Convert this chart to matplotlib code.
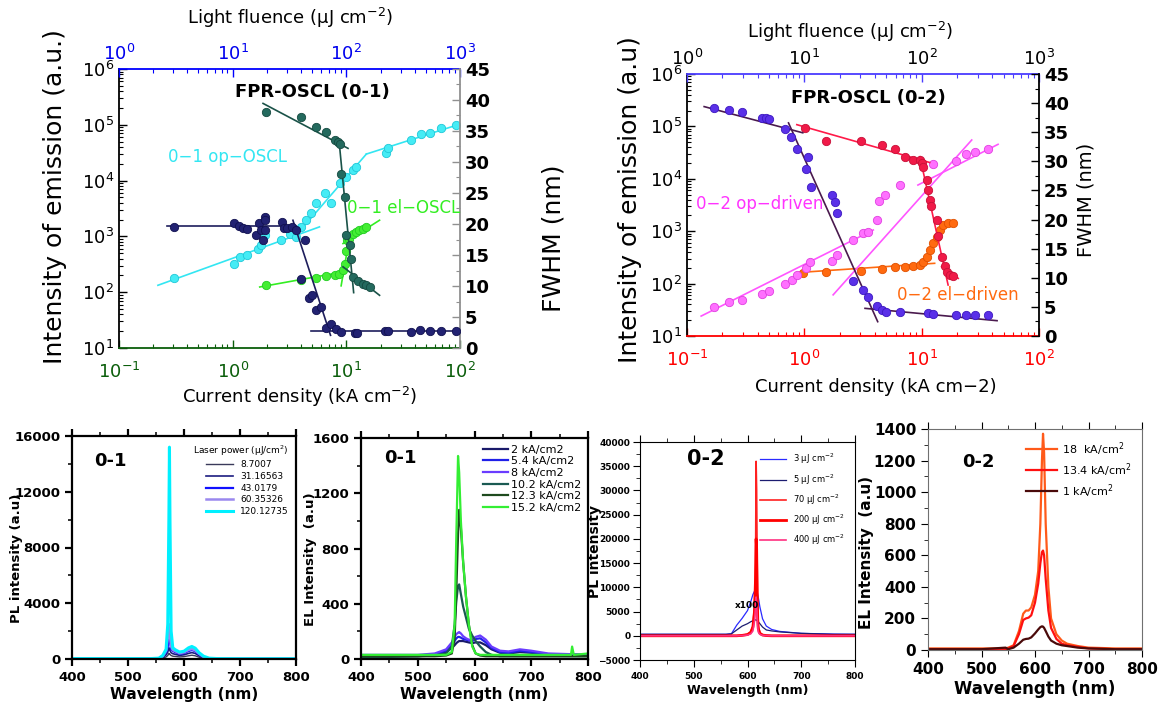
import numpy as np
import matplotlib
matplotlib.use('Agg')
import matplotlib.pyplot as plt
from matplotlib.ticker import MultipleLocator, LogLocator, NullFormatter

plt.rcParams['font.family'] = ['DejaVu Sans']
plt.rcParams['mathtext.default'] = 'regular'

# ---------------- data: FPR-OSCL (0-1) ----------------
# op-OSCL intensity vs light fluence
op1_flu = [3.05, 10.3, 11.5, 13.4, 16.7, 17.9, 19.1, 26.8, 31.7, 36.3, 40.2, 44.5, 49.2, 54.4,
           64.5, 73.8, 87.4, 100, 114, 122, 225, 234, 372, 457, 541, 685, 929]
op1_int = [180, 326, 430, 460, 605, 695, 1050, 850, 1120, 980, 1480, 1950, 2600, 3890,
           5900, 3890, 8900, 11700, 15500, 17800, 31000, 38000, 53800, 68000, 70000, 86000, 99000]
op1_fit_flu = [[2.2, 58], [36.3, 150], [150, 1000]]
op1_fit_int = [[133, 1480], [1050, 29900], [29900, 103000]]

# op FWHM vs light fluence
opw1_flu = [3.05, 10.3, 11.4, 12.3, 13.4, 15.9, 17.1, 17.6, 18.5, 19.1, 19.4, 19.1, 27.4, 28.3,
            30.2, 33.3, 36.3, 43.1, 40.2, 47.4, 49.9, 54.4, 60.2, 66, 72.6, 81.5, 89.9, 118,
            124, 218, 234, 372, 447, 541, 685, 929]
opw1_fw = [19.5, 20.2, 19.6, 19.4, 19.2, 18.3, 20.2, 19.0, 17.5, 21.2, 20.6, 19.0, 20.3, 19.3,
           19.4, 19.5, 19.0, 17.4, 11.1, 8.0, 8.5, 6.1, 6.6, 3.3, 3.8, 3.1, 2.6, 2.5,
           2.5, 2.7, 2.7, 2.6, 2.85, 2.7, 2.7, 2.7]
opw1_fit_flu = [[2.66, 36.3], [33.9, 72.6], [48.7, 1000]]
opw1_fit_fw = [[19.7, 19.7], [20.6, 2.05], [2.7, 2.7]]

# el-OSCL intensity vs current density
el1_cur = [1.98, 4.0, 5.4, 6.6, 7.9, 8.7, 9.3, 9.66, 10.0, 10.1, 10.6, 11.4, 12.2, 13.0, 14.0, 15.0]
el1_int = [137, 168, 180, 193, 207, 216, 248, 326, 542, 850, 915, 1120, 1200, 1290, 1380, 1480]
el1_fit_cur = [[1.73, 9.35], [9.0, 10.6], [9.35, 19.6]]
el1_fit_int = [[124, 231], [130, 900], [745, 1950]]

# el FWHM vs current density
elw1_cur = [1.98, 3.96, 5.37, 6.58, 7.89, 8.45, 8.85, 9.04, 9.66, 10.0, 10.7, 10.9, 11.4, 12.7, 14.0, 15.0, 16.1]
elw1_fw = [38.05, 37.2, 35.7, 34.8, 33.5, 33.3, 32.9, 28.1, 24.3, 18.2, 16.6, 14.4, 11.4, 10.8, 10.4, 10.1, 9.85]
elw1_fit_cur = [[1.85, 10.35], [8.73, 11.6], [9.35, 19.6]]
elw1_fit_fw = [[39.45, 32.2], [32.45, 8.93], [13.1, 8.5]]

# ---------------- data: FPR-OSCL (0-2) ----------------
op2_flu = [1.69, 2.29, 2.94, 4.35, 4.97, 6.78, 7.8, 8.63, 10.35, 11.2, 17.3, 18.9, 26.2, 31.4,
           34.7, 41.3, 43.5, 48.6, 66, 125, 198, 240, 287, 368]
op2_int = [36, 45, 49, 63, 73, 98, 117, 146, 195, 262, 275, 352, 680, 910,
           950, 1640, 3800, 4900, 7600, 19000, 21400, 29700, 33000, 36600]
op2_fit_flu = [[1.32, 38.7], [17.6, 267], [92.9, 448]]
op2_fit_int = [[24, 1055], [61, 55000], [7600, 45500]]

opw2_flu = [1.69, 2.29, 2.94, 4.35, 4.7, 5.01, 6.78, 7.67, 8.63, 10.7, 10.35, 11.3, 17.3, 18.3,
            18.9, 26.2, 31.4, 34.7, 41.3, 45.6, 49.6, 66, 114, 125, 198, 240, 287, 368]
opw2_fw = [39.1, 38.9, 38.5, 37.5, 37.4, 37.3, 35.5, 34.2, 32.2, 30.7, 28.6, 25.6, 24.2, 23.1,
           21.2, 9.4, 7.9, 6.75, 5.15, 4.5, 4.2, 4.1, 3.9, 3.7, 3.6, 3.6, 3.6, 3.6]
opw2_fit_flu = [[1.4, 9.7], [7.33, 42.2], [32.9, 439]]
opw2_fit_fw = [[39.4, 34.9], [36.6, 2.46], [4.75, 2.63]]

el2_cur = [0.98, 1.52, 3.04, 4.61, 5.91, 7.2, 8.47, 9.66, 10.3, 11.0, 11.7, 12.5, 13.4, 14.4, 15.3, 16.8, 18.5]
el2_int = [160, 169, 177, 193, 204, 210, 220, 226, 262, 327, 436, 586, 787, 1050, 1320, 1410, 1410]
el2_fit_cur = [[0.863, 12.9]]
el2_fit_int = [[162, 244]]

elw2_cur = [1.02, 1.52, 3.04, 4.61, 5.91, 7.2, 8.47, 9.66, 9.99, 10.3, 11.0, 11.4, 11.7, 12.1,
            13.4, 13.8, 14.8, 15.8, 16.3, 17.4, 18.5]
elw2_fw = [35.7, 33.5, 33.5, 32.8, 32.2, 30.7, 30.3, 30.2, 29.7, 29.1, 26.8, 25.1, 23.4, 22.3,
           19.9, 17.1, 13.6, 12.0, 11.0, 10.5, 10.3]
elw2_fit_cur = [[0.863, 11.7], [9.66, 16.8], [14.8, 20.5]]
elw2_fit_fw = [[36.3, 29.8], [30.8, 8.76], [11.9, 9.9]]

# ---------------- data: spectra ----------------
wl_pl1 = [400, 540, 555, 562, 568, 571, 573, 574, 575, 577, 580, 585, 592, 600, 608, 614, 620, 627, 635, 645, 660, 700, 800]
pl1_labels = ['8.7007', '31.16563', '43.0179', '60.35326', '120.12735']
pl1 = [
    [5, 5, 15, 60, 150, 250, 400, 380, 320, 250, 200, 180, 150, 170, 230, 270, 230, 130, 50, 15, 5, 5, 5],
    [10, 10, 30, 120, 300, 500, 800, 750, 600, 450, 380, 330, 260, 300, 400, 460, 400, 230, 90, 25, 10, 10, 10],
    [20, 20, 40, 180, 500, 900, 2400, 2000, 1200, 700, 580, 480, 380, 430, 570, 650, 560, 330, 130, 35, 20, 15, 15],
    [20, 20, 50, 200, 600, 1500, 2500, 2400, 1600, 900, 650, 550, 420, 480, 650, 720, 620, 380, 150, 40, 20, 15, 15],
    [30, 30, 60, 250, 700, 2500, 10000, 15200, 9800, 2000, 800, 650, 500, 560, 800, 900, 780, 450, 200, 60, 30, 20, 20],
]

wl_el1 = [400, 450, 500, 530, 550, 560, 565, 568, 571, 573, 576, 580, 585, 590, 596, 602, 610, 620,
          630, 645, 660, 680, 700, 730, 770, 772, 775, 800]
el1_labels = ['2 kA/cm2', '5.4 kA/cm2', '8 kA/cm2', '10.2 kA/cm2', '12.3 kA/cm2', '15.2 kA/cm2']
el1 = [
    [20, 20, 20, 30, 50, 80, 100, 115, 125, 130, 130, 130, 125, 120, 115, 120, 120, 100, 70, 45, 40, 50, 45, 30, 25, 25, 25, 25],
    [25, 25, 25, 35, 60, 100, 130, 150, 160, 160, 155, 145, 140, 135, 130, 145, 150, 120, 80, 50, 45, 60, 50, 35, 30, 30, 30, 30],
    [30, 30, 30, 40, 70, 120, 160, 180, 190, 195, 185, 165, 150, 140, 140, 160, 170, 140, 90, 60, 55, 70, 60, 40, 35, 35, 35, 35],
    [15, 15, 20, 25, 40, 90, 250, 420, 530, 540, 470, 380, 300, 220, 170, 130, 90, 50, 30, 20, 20, 20, 20, 20, 20, 20, 20, 20],
    [20, 20, 20, 20, 25, 40, 150, 500, 900, 1080, 950, 700, 450, 250, 100, 40, 25, 20, 20, 20, 20, 20, 20, 20, 20, 20, 20, 20],
    [30, 30, 30, 30, 30, 50, 250, 900, 1470, 1350, 1000, 700, 450, 250, 90, 40, 30, 30, 30, 30, 30, 30, 30, 30, 30, 90, 30, 40],
]

wl_pl2 = [400, 500, 560, 570, 580, 590, 600, 606, 610, 613, 615, 616, 617, 618, 619, 620, 623, 628, 635, 645, 660, 700, 760, 800]
pl2_labels = ['3 μJ cm$^{-2}$', '5 μJ cm$^{-2}$', '70 μJ cm$^{-2}$', '200 μJ cm$^{-2}$', '400 μJ cm$^{-2}$']
pl2 = [
    [300, 300, 300, 400, 2200, 3600, 5200, 7000, 8500, 9200, 9400, 9300, 9200, 9000, 8500, 8000, 6000, 3500, 2000, 1300, 900, 500, 350, 300],
    [300, 300, 300, 400, 1200, 2000, 2500, 2900, 3100, 3200, 3300, 3250, 3200, 3150, 3050, 2900, 2500, 1800, 1200, 1000, 800, 500, 300, 300],
    [0, 0, 0, 0, 0, 100, 300, 800, 2000, 6000, 15000, 36000, 30000, 15000, 5000, 2000, 600, 200, 50, 0, 0, 0, 0, 0],
    [0, 0, 0, 0, 0, 80, 250, 700, 1800, 5000, 12000, 20000, 18000, 9000, 3500, 1500, 500, 150, 40, 0, 0, 0, 0, 0],
    [0, 0, 0, 0, 0, 50, 150, 400, 1000, 3000, 6000, 8000, 7000, 4000, 2000, 800, 300, 100, 30, 0, 0, 0, 0, 0],
]

wl_el2 = [400, 450, 500, 545, 550, 560, 570, 578, 583, 588, 593, 600, 606, 610, 613, 615, 617, 620,
          625, 630, 640, 650, 660, 680, 700, 750, 800]
el2_labels = ['18  kA/cm$^{2}$', '13.4 kA/cm$^{2}$', '1 kA/cm$^{2}$']
el2 = [
    [10, 10, 10, 10, 15, 30, 120, 230, 250, 250, 270, 350, 500, 800, 1200, 1370, 1250, 800, 400, 200, 100, 60, 40, 25, 15, 10, 10],
    [5, 5, 5, 5, 10, 25, 100, 190, 200, 205, 220, 300, 420, 550, 620, 630, 600, 450, 250, 140, 70, 40, 30, 20, 10, 5, 5],
    [5, 5, 5, 15, 5, 15, 40, 65, 70, 72, 80, 105, 130, 145, 150, 148, 140, 120, 85, 60, 40, 30, 25, 15, 10, 5, 5],
]

W, H = 1161, 705
fig = plt.figure(figsize=(W / 100, H / 100), dpi=100)


def box(l, t, r, b):
    return fig.add_axes([l / W, 1 - b / H, (r - l) / W, (b - t) / H])


def ftext(x, y, s, **kw):
    fig.text(x / W, 1 - y / H, s, **kw)


def only_spines(ax, colors):
    for side in ['left', 'right', 'top', 'bottom']:
        if side in colors:
            ax.spines[side].set_color(colors[side])
            ax.spines[side].set_linewidth(1.3)
        else:
            ax.spines[side].set_visible(False)


def fits(ax, xs, ys, color):
    for x, y in zip(xs, ys):
        ax.plot(x, y, '-', color=color, lw=1.2)


def dots(ax, x, y, color, edge):
    ax.plot(x, y, 'o', ms=6, color=color, mec=edge, mew=0.6)


def log_panel(l, t, r, b, bot_col, top_col, top_lab_col, right_col):
    ax = box(l, t, r, b)
    ax.set_xscale('log')
    ax.set_yscale('log')
    ax.set_xlim(0.1, 100)
    ax.set_ylim(10, 1e6)
    axt = ax.twiny()
    axt.set_xscale('log')
    axt.set_xlim(1, 1000)
    axr = ax.twinx()
    axr.set_ylim(0, 45)
    axr.yaxis.set_major_locator(MultipleLocator(5))
    axr.yaxis.set_minor_locator(MultipleLocator(2.5))
    axtr = axt.twinx()
    axtr.set_ylim(0, 45)
    axtr.axis('off')
    only_spines(ax, {'left': 'black', 'bottom': bot_col})
    only_spines(axt, {'top': top_col})
    only_spines(axr, {'right': right_col})
    for a in (ax, axt, axr):
        a.tick_params(which='major', direction='in', length=6, width=1, labelsize=13)
        a.tick_params(which='minor', direction='in', length=3, width=0.8)
    ax.yaxis.set_major_locator(LogLocator(base=10, numticks=10))
    ax.yaxis.set_minor_locator(LogLocator(base=10, subs=np.arange(2, 10), numticks=10))
    ax.yaxis.set_minor_formatter(NullFormatter())
    ax.tick_params(axis='x', colors=bot_col, which='both')
    ax.tick_params(axis='x', labelcolor=bot_col, pad=10)
    axt.tick_params(axis='x', colors=top_col, which='both')
    axt.tick_params(axis='x', labelcolor=top_lab_col)
    axr.tick_params(axis='y', colors=right_col, which='both')
    axr.tick_params(axis='y', labelcolor='black')
    for lab in axr.get_yticklabels():
        lab.set_fontweight('bold')
    return ax, axt, axr, axtr


# ---------------- panel: FPR-OSCL (0-1) ----------------
ax, axt, axr, axtr = log_panel(119, 69, 460, 348, '#0b5e0b', '#0000ff', '#0000ee', '#909090')
fits(axt, op1_fit_flu, op1_fit_int, '#33e6f2')
dots(axt, op1_flu, op1_int, '#45ecf5', '#20c8d8')
fits(axtr, opw1_fit_flu, opw1_fit_fw, '#1e1e5c')
dots(axtr, opw1_flu, opw1_fw, '#222272', '#111150')
fits(ax, el1_fit_cur, el1_fit_int, '#33ee22')
dots(ax, el1_cur, el1_int, '#44ee33', '#22cc22')
fits(axr, elw1_fit_cur, elw1_fit_fw, '#1a5248')
dots(axr, elw1_cur, elw1_fw, '#246a5e', '#154a40')
ftext(312, 92, 'FPR-OSCL (0-1)', fontsize=13, fontweight='bold', ha='center', va='center')
ftext(228, 157, '0−1 op−OSCL', fontsize=12, color='#33e6f2', ha='center', va='center')
ftext(404, 208, '0−1 el−OSCL', fontsize=12, color='#33ee22', ha='center', va='center')
ftext(290, 18, 'Light fluence (μJ cm$^{-2}$)', fontsize=13, ha='center', va='center')
ftext(300, 397, 'Current density (kA cm$^{-2}$)', fontsize=13, ha='center', va='center')
ftext(55, 197, 'Intensity of emission (a.u.)', fontsize=18, rotation=90, ha='center', va='center')
ftext(553, 238, 'FWHM (nm)', fontsize=18, rotation=90, ha='center', va='center')

# ---------------- panel: FPR-OSCL (0-2) ----------------
ax, axt, axr, axtr = log_panel(687, 74, 1039, 336, '#ff0000', '#4a3cff', 'black', 'black')
fits(axtr, opw2_fit_flu, opw2_fit_fw, '#4a1a4e')
dots(axtr, opw2_flu, opw2_fw, '#5a30e8', '#3c18c0')
fits(axr, elw2_fit_cur, elw2_fit_fw, '#ff1a48')
dots(axr, elw2_cur, elw2_fw, '#f01a48', '#c81038')
fits(axt, op2_fit_flu, op2_fit_int, '#ff55ff')
dots(axt, op2_flu, op2_int, '#ff70ff', '#e040e0')
fits(ax, el2_fit_cur, el2_fit_int, '#ff6a10')
dots(ax, el2_cur, el2_int, '#ff6a10', '#e05000')
ftext(868, 98, 'FPR-OSCL (0-2)', fontsize=13, fontweight='bold', ha='center', va='center')
ftext(760, 204, '0−2 op−driven', fontsize=12, color='#ff33ff', ha='center', va='center')
ftext(958, 295, '0−2 el−driven', fontsize=12, color='#ff6a10', ha='center', va='center')
ftext(850, 32, 'Light fluence (μJ cm$^{-2}$)', fontsize=13, ha='center', va='center')
ftext(876, 387, 'Current density (kA cm−2)', fontsize=13, ha='center', va='center')
ftext(630, 200, 'Intensity of emission (a.u)', fontsize=18, rotation=90, ha='center', va='center')
ftext(1086, 200, 'FWHM (nm)', fontsize=14, rotation=90, ha='center', va='center')


# ---------------- spectra panels ----------------
def spec_panel(l, t, r, b, ylim, ymaj, ymin, lw=1.4, fs=10):
    a = box(l, t, r, b)
    a.set_xlim(400, 800)
    a.set_ylim(*ylim)
    a.xaxis.set_major_locator(MultipleLocator(100))
    a.xaxis.set_minor_locator(MultipleLocator(50))
    a.yaxis.set_major_locator(MultipleLocator(ymaj))
    a.yaxis.set_minor_locator(MultipleLocator(ymin))
    a.tick_params(which='major', direction='out', length=5, width=lw, labelsize=fs, top=True, right=False)
    a.tick_params(which='minor', direction='out', length=3, width=lw * 0.7, top=True)
    for s in a.spines.values():
        s.set_linewidth(lw)
    for lab in a.get_xticklabels() + a.get_yticklabels():
        lab.set_fontweight('bold')
    return a


a3 = spec_panel(72, 436, 296, 659, (0, 16000), 4000, 2000, lw=1.6, fs=9.5)
cols3 = ['#3a3a5a', '#1c1c80', '#1010ff', '#9a88ee', '#00f0ff']
lws3 = [1.0, 1.2, 1.6, 1.8, 2.2]
for y, c, w, lab in zip(pl1, cols3, lws3, pl1_labels):
    a3.plot(wl_pl1, y, color=c, lw=w, label=lab)
leg = a3.legend(loc='upper right', frameon=False, fontsize=6.5, title='Laser power (μJ/cm$^{2}$)',
                title_fontsize=6.5, handlelength=3.0, borderaxespad=0.4, labelspacing=0.3)
leg._legend_box.align = 'right'
a3.set_xlabel('Wavelength (nm)', fontsize=11, fontweight='bold', labelpad=2)
a3.set_ylabel('PL intensity (a.u)', fontsize=9.5, fontweight='bold')
a3.yaxis.set_label_coords(-0.22, 0.45)
a3.text(0.1, 0.89, '0-1', transform=a3.transAxes, fontsize=13, fontweight='bold', va='center')

a4 = spec_panel(361, 438, 588, 659, (0, 1600), 400, 200, lw=1.6, fs=9.5)
cols4 = ['#1a1a6a', '#2020e8', '#6a3cff', '#1a5a52', '#1e4a1e', '#33ee33']
for y, c, lab in zip(el1, cols4, el1_labels):
    a4.plot(wl_el1, y, color=c, lw=1.6, label=lab)
a4.legend(loc='upper right', frameon=False, fontsize=8, handlelength=2.2, borderaxespad=0.2,
          labelspacing=0.15, handletextpad=0.3)
a4.set_xlabel('Wavelength (nm)', fontsize=11, fontweight='bold', labelpad=2)
a4.set_ylabel('EL Intensity  (a.u)', fontsize=9.5, fontweight='bold')
a4.yaxis.set_label_coords(-0.195, 0.45)
a4.text(0.1, 0.91, '0-1', transform=a4.transAxes, fontsize=13, fontweight='bold', va='center')

a5 = spec_panel(640, 442, 855, 660, (-5000, 40000), 5000, 2500, lw=0.8, fs=6.5)
a5.tick_params(axis='y', pad=2)
cols5 = ['#2a2aff', '#1c1c70', '#ff2020', '#ff0000', '#ff3080']
lws5 = [0.9, 0.9, 1.2, 2.0, 1.2]
for y, c, w, lab in zip(pl2, cols5, lws5, pl2_labels):
    a5.plot(wl_pl2, y, color=c, lw=w, label=lab)
a5.legend(loc='upper right', frameon=False, fontsize=6, handlelength=3.2, borderaxespad=0.8,
          labelspacing=0.7)
a5.set_xlabel('Wavelength (nm)', fontsize=9, fontweight='bold', labelpad=2)
a5.set_ylabel('PL intensity', fontsize=10, fontweight='bold')
a5.yaxis.set_label_coords(-0.175, 0.5)
a5.text(0.22, 0.92, '0-2', transform=a5.transAxes, fontsize=15, fontweight='bold', va='center')
a5.text(577, 5800, 'x100', fontsize=6.5, fontweight='bold')

a6 = spec_panel(928, 429, 1142, 650, (0, 1400), 200, 100, lw=0.8, fs=11)
cols6 = ['#ff5a1a', '#ff1010', '#4a0a0a']
for y, c, lab in zip(el2, cols6, el2_labels):
    a6.plot(wl_el2, y, color=c, lw=1.6, label=lab)
a6.legend(loc='upper right', frameon=False, fontsize=8, handlelength=2.8, borderaxespad=0.6,
          labelspacing=0.3, handletextpad=0.4)
for s in a6.spines.values():
    s.set_color('#707070')
a6.set_xlabel('Wavelength (nm)', fontsize=12, fontweight='bold', labelpad=2)
a6.set_ylabel('EL Intensity  (a.u)', fontsize=11, fontweight='bold')
a6.yaxis.set_label_coords(-0.25, 0.44)
a6.text(0.16, 0.85, '0-2', transform=a6.transAxes, fontsize=13, fontweight='bold', va='center')

fig.savefig('out.png', dpi=100)
